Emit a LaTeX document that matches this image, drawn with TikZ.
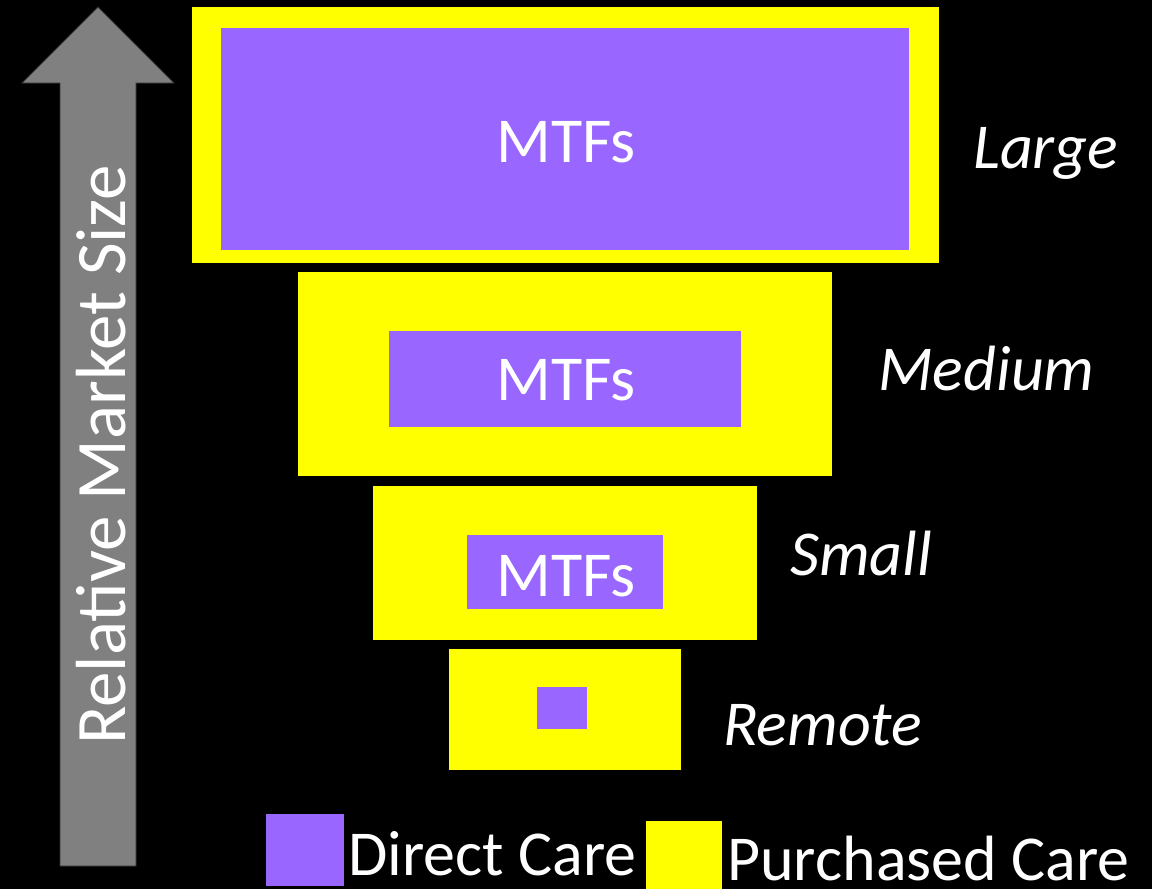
\documentclass[tikz,border=0pt]{standalone}
\usepackage{fontspec}
\setmainfont{Carlito}
\definecolor{dcpurple}{HTML}{9966FF}
\definecolor{pcyellow}{HTML}{FFFF00}
\definecolor{arrowgray}{HTML}{808080}
\begin{document}
\begin{tikzpicture}[x=1pt,y=-1pt,
  box/.style={anchor=north west,inner sep=0pt,outer sep=0pt,draw=none},
  ybox/.style={box,fill=pcyellow},
  pbox/.style={box,fill=dcpurple},
  lbl/.style={text=white,font=\fontsize{64}{72}\selectfont,inner sep=0pt},
  sizelbl/.style={lbl,font=\fontsize{64}{72}\selectfont\itshape,anchor=base west}
]
\path[fill=black,use as bounding box] (0,0) rectangle (1152,889);
% arrow
\draw[fill=arrowgray,draw=black!60!arrowgray,line width=0.8pt]
  (98,7) -- (174,83) -- (136,83) -- (136,866) -- (60,866) -- (60,83) -- (22,83) -- cycle;
\node[lbl,rotate=90,font=\fontsize{71}{80}\selectfont] (axis) at (101,455) {Relative Market Size};
% large
\node[ybox,minimum width=747pt,minimum height=256pt] (ly) at (192,7) {};
\node[pbox,minimum width=688pt,minimum height=222pt] (lp) at (221,28) {};
\node[lbl,anchor=base] (lt) at (566,162) {MTFs};
\node[sizelbl] (lname) at (973,168) {Large};
% medium
\node[ybox,minimum width=534pt,minimum height=204pt] (my) at (298,272) {};
\node[pbox,minimum width=352pt,minimum height=96pt] (mp) at (389,331) {};
\node[lbl,anchor=base] (mt) at (566,400) {MTFs};
\node[sizelbl] (mname) at (878,390) {Medium};
% small
\node[ybox,minimum width=384pt,minimum height=154pt] (sy) at (373,486) {};
\node[pbox,minimum width=196pt,minimum height=74pt] (sp) at (467,535) {};
\node[lbl,anchor=base] (st) at (566,596) {MTFs};
\node[sizelbl] (sname) at (790,575) {Small};
% remote
\node[ybox,minimum width=232pt,minimum height=121pt] (ry) at (449,649) {};
\node[pbox,minimum width=50pt,minimum height=42pt] (rp) at (537,687) {};
\node[sizelbl] (rname) at (723,745) {Remote};
% legend
\node[pbox,minimum width=78pt,minimum height=72pt] (lgp) at (266,814) {};
\node[lbl,anchor=base west] (lgpt) at (348,875) {Direct Care};
\node[ybox,minimum width=76pt,minimum height=68pt] (lgy) at (646,821) {};
\node[lbl,anchor=base west] (lgyt) at (727,880) {Purchased Care};
\end{tikzpicture}
\end{document}
